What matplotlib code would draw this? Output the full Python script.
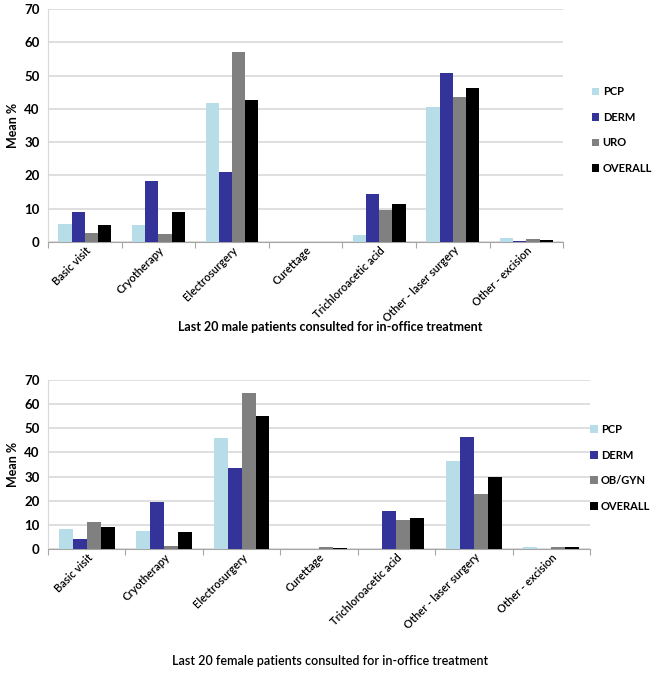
import matplotlib.pyplot as plt
import numpy as np

categories = ["Basic visit", "Cryotherapy", "Electrosurgery", "Curettage",
              "Trichloroacetic acid", "Other - laser surgery", "Other - excision"]

male_pcp = [5.5, 5.1, 41.6, 0, 2.0, 40.6, 1.1]
male_derm = [9.0, 18.4, 21.1, 0, 14.4, 50.7, 0.3]
male_uro = [2.7, 2.5, 57.1, 0, 9.5, 43.5, 1.0]
male_overall = [5.2, 9.0, 42.7, 0, 11.5, 46.4, 0.7]

female_pcp = [8.4, 7.3, 46.1, 0, 0, 36.6, 0.8]
female_derm = [4.0, 19.3, 33.7, 0, 15.6, 46.3, 0]
female_obgyn = [11.0, 1.2, 64.5, 1.0, 12.0, 22.8, 1.0]
female_overall = [9.0, 6.9, 55.2, 0.5, 13.0, 29.8, 0.7]

colors = ["#B7DEE8", "#333399", "#808080", "#000000"]

plt.rcParams["font.family"] = ["Lato", "DejaVu Sans"]


def draw_panel(ax, series, labels, legend_x):
    x = np.arange(len(categories))
    w = 0.18
    for i, (vals, lab) in enumerate(zip(series, labels)):
        ax.bar(x + (i - 1.5) * w, vals, w, color=colors[i], label=lab, zorder=3)
    ax.set_xlim(-0.5, len(categories) - 0.5)
    ax.set_ylim(0, 70)
    ax.set_yticks(range(0, 71, 10))
    ax.yaxis.grid(True, color="#D9D9D9", linewidth=1.2, zorder=0)
    for s in ["top", "right"]:
        ax.spines[s].set_visible(False)
    ax.spines["left"].set_color("#D9D9D9")
    ax.spines["bottom"].set_color("#A6A6A6")
    ax.tick_params(axis="y", length=0, labelsize=9.5, pad=6)
    ax.set_xticks(np.arange(-0.5, len(categories), 1))
    ax.set_xticklabels([])
    ax.tick_params(axis="x", which="major", length=4, color="#A6A6A6")
    ax.set_xticks(x, minor=True)
    ax.set_xticklabels(categories, minor=True, rotation=45, ha="right",
                       rotation_mode="anchor", fontsize=8)
    ax.tick_params(axis="x", which="minor", length=0, pad=2)
    for t in ax.get_yticklabels():
        t.set_fontweight("bold")
    for t in ax.get_xticklabels(minor=True):
        t.set_fontweight("semibold")
    ax.set_ylabel("Mean %", fontsize=9, fontweight="bold", labelpad=4)
    ax.legend(loc="center left", bbox_to_anchor=(legend_x, 0.48), frameon=False,
              handlelength=0.7, handleheight=0.7, handletextpad=0.3,
              labelspacing=1.3, borderaxespad=0.0, borderpad=0.0,
              prop={"size": 8, "weight": "bold"})
    return ax


fig = plt.figure(figsize=(6.53, 6.74), dpi=100)
ax1 = fig.add_axes([0.0735, 0.641, 0.789, 0.3457])
draw_panel(ax1, [male_pcp, male_derm, male_uro, male_overall],
           ["PCP", "DERM", "URO", "OVERALL"], 1.055)
fig.text(0.505, 1 - 327 / 674, "Last 20 male patients consulted for in-office treatment",
         ha="center", va="center", fontsize=9, fontweight="bold")

ax2 = fig.add_axes([0.0735, 0.1855, 0.830, 0.2507])
draw_panel(ax2, [female_pcp, female_derm, female_obgyn, female_overall],
           ["PCP", "DERM", "OB/GYN", "OVERALL"], 1.0)
fig.text(0.505, 1 - 661 / 674, "Last 20 female patients consulted for in-office treatment",
         ha="center", va="center", fontsize=9, fontweight="semibold")

fig.savefig("out.png", dpi=100)
